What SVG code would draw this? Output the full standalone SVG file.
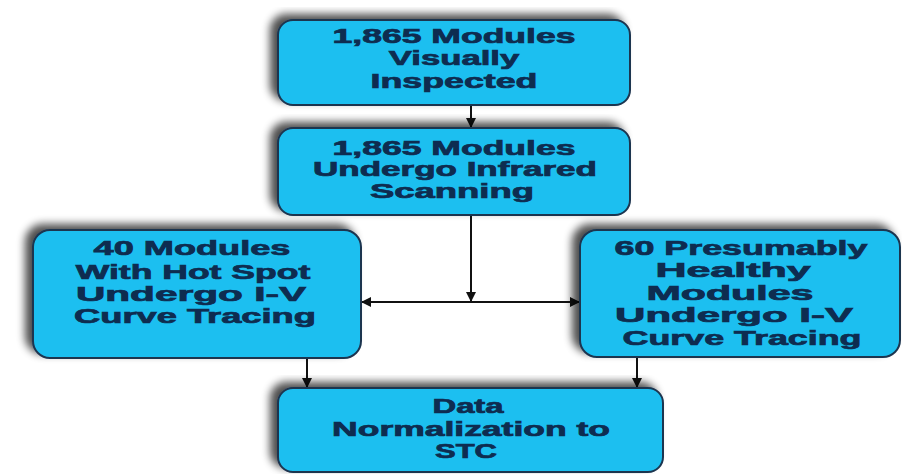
<svg xmlns="http://www.w3.org/2000/svg" width="902" height="474" viewBox="0 0 902 474">
<defs>
<filter id="sh" x="-10%" y="-15%" width="120%" height="130%">
<feGaussianBlur in="SourceAlpha" stdDeviation="4"/>
<feOffset dx="-7" dy="-5" result="b"/>
<feComponentTransfer><feFuncA type="linear" slope="0.7"/></feComponentTransfer>
<feMerge><feMergeNode/><feMergeNode in="SourceGraphic"/></feMerge>
</filter>
<marker id="ah" viewBox="0 0 10 10" refX="10" refY="5" markerWidth="11" markerHeight="10" markerUnits="userSpaceOnUse" orient="auto">
<path d="M0,0 L10,5 L0,10 Z" fill="#111"/>
</marker>
</defs>
<style>
.box{fill:#1bbff0;stroke:#1c3550;stroke-width:2;filter:url(#sh)}
.t{font-family:"Liberation Sans",Arial,sans-serif;font-weight:bold;font-size:20px;fill:#0e2c50;stroke:#0e2c50;stroke-width:0.7;text-anchor:middle}
.c{stroke:#111;stroke-width:2;fill:none}
</style>
<rect width="902" height="474" fill="#fff"/>
<g id="conn">
<line class="c" x1="471" y1="105" x2="471" y2="128" marker-end="url(#ah)"/>
<line class="c" x1="471" y1="215" x2="471" y2="302" marker-end="url(#ah)"/>
<line class="c" x1="471" y1="302" x2="361" y2="302" marker-end="url(#ah)"/>
<line class="c" x1="471" y1="302" x2="580" y2="302" marker-end="url(#ah)"/>
<line class="c" x1="307" y1="358" x2="307" y2="388" marker-end="url(#ah)"/>
<line class="c" x1="637" y1="357" x2="637" y2="388" marker-end="url(#ah)"/>
</g>
<g id="n1">
<rect class="box" x="278" y="20" width="352" height="85" rx="15"/>
<text class="t" transform="translate(454,43) scale(1.777,1)">1,865 Modules</text>
<text class="t" transform="translate(454,65) scale(1.733,1)">Visually</text>
<text class="t" transform="translate(454,88) scale(1.788,1)">Inspected</text>
</g>
<g id="n2">
<rect class="box" x="278" y="128" width="352" height="87" rx="15"/>
<text class="t" transform="translate(454,155) scale(1.777,1)">1,865 Modules</text>
<text class="t" transform="translate(455,176) scale(1.751,1)">Undergo Infrared</text>
<text class="t" transform="translate(452,198) scale(1.822,1)">Scanning</text>
</g>
<g id="n3">
<rect class="box" x="33" y="230" width="328" height="128" rx="17"/>
<text class="t" transform="translate(192,255) scale(1.809,1)">40 Modules</text>
<text class="t" transform="translate(193,279) scale(1.778,1)">With Hot Spot</text>
<text class="t" transform="translate(191,301) scale(2.03,1)">Undergo I-V</text>
<text class="t" transform="translate(195,323) scale(1.814,1)">Curve Tracing</text>
</g>
<g id="n4">
<rect class="box" x="580" y="230" width="320" height="127" rx="17"/>
<text class="t" transform="translate(741,255) scale(1.792,1)">60 Presumably</text>
<text class="t" transform="translate(733,277) scale(2.15,1)">Healthy</text>
<text class="t" transform="translate(730,300) scale(2.06,1)">Modules</text>
<text class="t" transform="translate(734,322) scale(2.10,1)">Undergo I-V</text>
<text class="t" transform="translate(742,345) scale(1.792,1)">Curve Tracing</text>
</g>
<g id="n5">
<rect class="box" x="278" y="388" width="385" height="84" rx="15"/>
<text class="t" transform="translate(468,413) scale(1.64,1)">Data</text>
<text class="t" transform="translate(471,436) scale(1.774,1)">Normalization to</text>
<text class="t" transform="translate(466,458) scale(1.55,1)">STC</text>
</g>
</svg>
